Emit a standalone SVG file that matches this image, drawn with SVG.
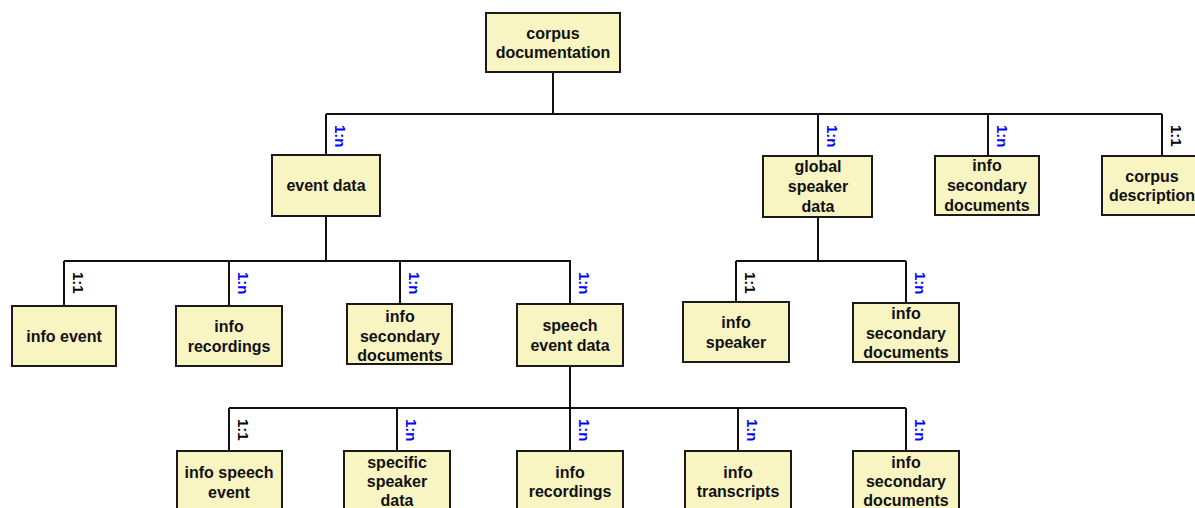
<svg xmlns="http://www.w3.org/2000/svg" width="1195" height="508" viewBox="0 0 1195 508">
<style>
.box{fill:#F8F5C3;stroke:#1a1a1a;stroke-width:2}
.t{font-family:"Liberation Sans",Arial,sans-serif;font-size:16px;font-weight:bold;fill:#111;text-anchor:middle}
.c{fill:none;stroke:#111;stroke-width:2}
.l{font-family:"Liberation Sans",Arial,sans-serif;font-size:15px;font-weight:bold}
.n{fill:#0000ff}
.o{fill:#000}
</style>
<rect width="1195" height="508" fill="#fff"/>
<g id="connectors">
<path class="c" d="M553,72V114M326,114H1162M326,114V155M818,114V156M988,114V156M1162,114V156"/>
<path class="c" d="M326,216V261M64,261H571M64,261V306M229,261V306M400,261V304M570,261V304"/>
<path class="c" d="M818,217V261M736,261H906M736,261V302M906,261V303"/>
<path class="c" d="M570,366V408M229,408H906M229,408V451M397,408V451M570,408V451M738,408V451M906,408V451"/>
<g class="l">
<text class="n" transform="translate(335,125) rotate(90)">1:n</text>
<text class="n" transform="translate(827,125) rotate(90)">1:n</text>
<text class="n" transform="translate(997,125) rotate(90)">1:n</text>
<text class="o" transform="translate(1171,125) rotate(90)">1:1</text>
<text class="o" transform="translate(73,272) rotate(90)">1:1</text>
<text class="n" transform="translate(238,272) rotate(90)">1:n</text>
<text class="n" transform="translate(409,272) rotate(90)">1:n</text>
<text class="n" transform="translate(579,272) rotate(90)">1:n</text>
<text class="o" transform="translate(745,272) rotate(90)">1:1</text>
<text class="n" transform="translate(915,272) rotate(90)">1:n</text>
<text class="o" transform="translate(238,419) rotate(90)">1:1</text>
<text class="n" transform="translate(406,419) rotate(90)">1:n</text>
<text class="n" transform="translate(579,419) rotate(90)">1:n</text>
<text class="n" transform="translate(747,419) rotate(90)">1:n</text>
<text class="n" transform="translate(915,419) rotate(90)">1:n</text>
</g>
</g>
<g id="n-corpus-documentation"><rect class="box" x="486" y="13" width="134" height="59"/><text class="t" x="553" y="39">corpus</text><text class="t" x="553" y="58">documentation</text></g>
<g id="n-event-data"><rect class="box" x="272" y="155" width="108" height="61"/><text class="t" x="326" y="191">event data</text></g>
<g id="n-global-speaker-data"><rect class="box" x="763" y="156" width="109" height="61"/><text class="t" x="818" y="172">global</text><text class="t" x="818" y="192">speaker</text><text class="t" x="818" y="212">data</text></g>
<g id="n-info-secondary-top"><rect class="box" x="935" y="156" width="104" height="59"/><text class="t" x="987" y="171">info</text><text class="t" x="987" y="191">secondary</text><text class="t" x="987" y="211">documents</text></g>
<g id="n-corpus-description"><rect class="box" x="1102" y="156" width="100" height="59"/><text class="t" x="1152" y="182">corpus</text><text class="t" x="1152" y="201">description</text></g>
<g id="n-info-event"><rect class="box" x="12" y="306" width="104" height="60"/><text class="t" x="64" y="342">info event</text></g>
<g id="n-info-recordings-1"><rect class="box" x="176" y="306" width="106" height="60"/><text class="t" x="229" y="332">info</text><text class="t" x="229" y="352">recordings</text></g>
<g id="n-info-secondary-1"><rect class="box" x="347" y="304" width="105" height="60"/><text class="t" x="400" y="322">info</text><text class="t" x="400" y="342">secondary</text><text class="t" x="400" y="361">documents</text></g>
<g id="n-speech-event-data"><rect class="box" x="517" y="304" width="106" height="62"/><text class="t" x="570" y="331">speech</text><text class="t" x="570" y="351">event data</text></g>
<g id="n-info-speaker"><rect class="box" x="683" y="302" width="106" height="60"/><text class="t" x="736" y="328">info</text><text class="t" x="736" y="348">speaker</text></g>
<g id="n-info-secondary-2"><rect class="box" x="853" y="303" width="106" height="59"/><text class="t" x="906" y="319">info</text><text class="t" x="906" y="339">secondary</text><text class="t" x="906" y="358">documents</text></g>
<g id="n-info-speech-event"><rect class="box" x="177" y="451" width="105" height="62"/><text class="t" x="229" y="478">info speech</text><text class="t" x="229" y="498">event</text></g>
<g id="n-specific-speaker-data"><rect class="box" x="344" y="451" width="106" height="62"/><text class="t" x="397" y="468">specific</text><text class="t" x="397" y="487">speaker</text><text class="t" x="397" y="506">data</text></g>
<g id="n-info-recordings-2"><rect class="box" x="517" y="451" width="106" height="62"/><text class="t" x="570" y="478">info</text><text class="t" x="570" y="497">recordings</text></g>
<g id="n-info-transcripts"><rect class="box" x="685" y="451" width="106" height="62"/><text class="t" x="738" y="478">info</text><text class="t" x="738" y="497">transcripts</text></g>
<g id="n-info-secondary-3"><rect class="box" x="853" y="451" width="106" height="62"/><text class="t" x="906" y="468">info</text><text class="t" x="906" y="487">secondary</text><text class="t" x="906" y="506">documents</text></g>
</svg>
